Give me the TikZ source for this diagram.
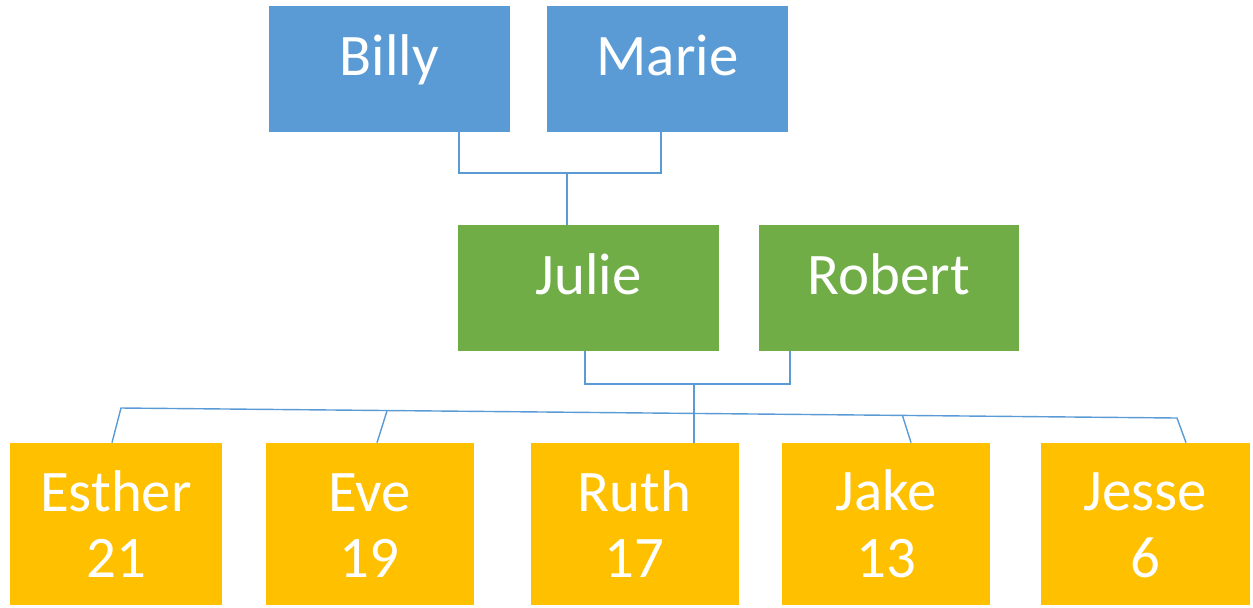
\documentclass[tikz,border=0pt]{standalone}
\usepackage{fontspec}
\setmainfont{Carlito}
\usetikzlibrary{calc}
\definecolor{gpblue}{HTML}{5B9BD5}
\definecolor{pgreen}{HTML}{70AD47}
\definecolor{kidorange}{HTML}{FFC000}
\begin{document}
\begin{tikzpicture}[
  person/.style={text=white,inner sep=0pt,font=\fontsize{33.5}{38}\selectfont},
  one/.style={person,minimum height=2.52cm,text height=0.62cm,text depth=0.36cm},
  kid/.style={person,fill=kidorange,minimum width=4.16cm,minimum height=3.24cm,align=center},
  link/.style={gpblue,line width=0.8pt}
]
\useasboundingbox (0,0) rectangle (25.06,-12.14);

%Grandparents
\node (Billy) at (7.79,-1.38) [one,fill=gpblue,minimum width=4.82cm] {Billy};
\node (Marie) at (13.35,-1.38) [one,fill=gpblue,minimum width=4.82cm] {Marie};

%Parents
\node (Julie) at (11.77,-5.76) [one,fill=pgreen,minimum width=5.22cm] {Julie};
\node (Robert) at (17.78,-5.76) [one,fill=pgreen,minimum width=5.2cm] {Robert};

%Children
\node (Esther) at (2.32,-10.48) [kid,minimum width=4.24cm] {\vphantom{h}Esther\\21};
\node (Eve) at (7.39,-10.48) [kid] {\vphantom{h}Eve\\19};
\node (Ruth) at (12.69,-10.48) [kid] {\vphantom{h}Ruth\\17};
\node (Jake) at (17.72,-10.48) [kid] {\vphantom{h}Jake\\13};
\node (Jesse) at (22.91,-10.48) [kid,minimum width=4.18cm] {\vphantom{h}Jesse\\6};

%from Grandparents to Julie
\coordinate (bmL) at (9.18,-3.46);
\coordinate (bmR) at (13.22,-3.46);
\coordinate (bmJ) at (11.34,-3.46);
\draw[link] (Billy.south -| bmL) -- (bmL) -- (bmR) -- (Marie.south -| bmR);
\draw[link] (bmJ) -- (Julie.north -| bmJ);

%from Parents to Children
\coordinate (jrL) at (11.70,-7.68);
\coordinate (jrR) at (15.80,-7.68);
\coordinate (jrK) at (13.88,-7.68);
\draw[link] (Julie.south -| jrL) -- (jrL) -- (jrR) -- (Robert.south -| jrR);
\draw[link] (jrK) -- (Ruth.north -| jrK);

\coordinate (kA) at (2.42,-8.16);
\coordinate (kB) at (23.54,-8.36);
\draw[link] ([xshift=-0.08cm]Esther.north) -- (kA) -- (kB) -- ([xshift=0.81cm]Jesse.north);
\draw[link] ($(kA)!0.252!(kB)$) -- ([xshift=0.15cm]Eve.north);
\draw[link] ($(kA)!0.74!(kB)$) -- ([xshift=0.5cm]Jake.north);

\end{tikzpicture}
\end{document}
